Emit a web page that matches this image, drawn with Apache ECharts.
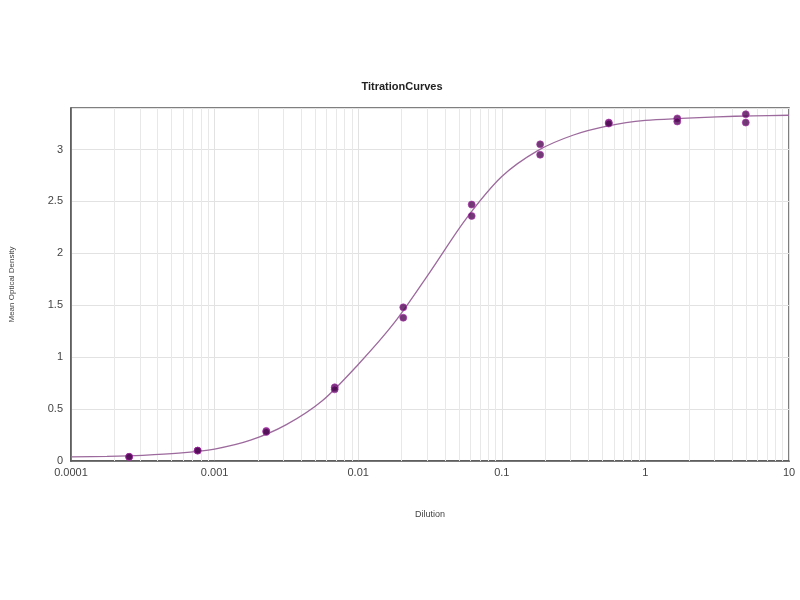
<!DOCTYPE html>
<html>
<head>
<meta charset="utf-8">
<script src="https://cdn.jsdelivr.net/npm/echarts@6/dist/echarts.min.js"></script>
<style>html,body{margin:0;padding:0;background:#fff}#c{width:800px;height:600px}</style>
</head>
<body>
<div id="c"></div>
<script>
// Dilution values of the measured points
var dilutions = [0.000254, 0.000762, 0.00229, 0.00686, 0.0206, 0.0617, 0.185, 0.556, 1.667, 5];
// Replicate optical densities
var replicate1 = [0.04, 0.10, 0.29, 0.71, 1.48, 2.47, 3.05, 3.26, 3.30, 3.34];
var replicate2 = [0.04, 0.10, 0.28, 0.69, 1.38, 2.36, 2.95, 3.25, 3.27, 3.26];
// Fitted curve (quarter-decade steps)
var curveX = [0.0001, 0.000178, 0.000316, 0.000562, 0.001, 0.00178, 0.00316, 0.00562, 0.01, 0.0178, 0.0316, 0.0562, 0.1, 0.178, 0.316, 0.562, 1, 1.78, 3.16, 5.62, 10];
var curveY = [0.04, 0.045, 0.055, 0.075, 0.115, 0.20, 0.35, 0.58, 0.93, 1.33, 1.82, 2.33, 2.74, 2.99, 3.14, 3.23, 3.28, 3.30, 3.315, 3.325, 3.33];
// Axis ticks
var yTicks = [0, 0.5, 1, 1.5, 2, 2.5, 3];
var xDecades = [0.0001, 0.001, 0.01, 0.1, 1, 10];

var points = [];
for (var i = 0; i < dilutions.length; i++) {
  points.push([dilutions[i], replicate1[i]]);
  points.push([dilutions[i], replicate2[i]]);
}
var curve = curveX.map(function (x, i) { return [x, curveY[i]]; });

// minor log grid lines 2..9 within each decade
var minorLines = [];
for (var d = 0; d < xDecades.length - 1; d++) {
  for (var m = 2; m <= 9; m++) {
    minorLines.push([parseFloat((xDecades[d] * m).toPrecision(6)), 0]);
  }
}
var yMax = 3.4;

var chart = echarts.init(document.getElementById('c'), null, { renderer: 'canvas' });
chart.setOption({
  backgroundColor: '#ffffff',
  animation: false,
  title: {
    text: 'TitrationCurves',
    left: 397, top: 76, textAlign: 'center',
    textStyle: { fontFamily: 'Liberation Sans', fontSize: 11, fontWeight: 'bold', color: '#222' }
  },
  grid: { left: 69, right: 11, top: 108, bottom: 139, show: true, borderColor: '#555', borderWidth: 1.5 },
  xAxis: {
    type: 'log', logBase: 10, min: 0.0001, max: 10,
    name: 'Dilution', nameLocation: 'middle', nameGap: 49,
    nameTextStyle: { fontFamily: 'Liberation Sans', fontSize: 9, color: '#444' },
    axisLine: { show: true, lineStyle: { color: '#555', width: 1.5 } },
    axisTick: { show: false },
    axisLabel: {
      fontFamily: 'Liberation Sans', fontSize: 11, color: '#444', margin: 6,
      formatter: function (v) { return parseFloat(v.toPrecision(6)).toString(); }
    },
    splitLine: { show: true, lineStyle: { color: '#e2e2e2', width: 1 } }
  },
  yAxis: {
    type: 'value', min: 0, max: yMax, interval: 0.5,
    name: 'Mean Optical Density', nameLocation: 'middle', nameGap: 55, nameRotate: 90,
    nameTextStyle: { fontFamily: 'Liberation Sans', fontSize: 8, color: '#444' },
    axisLine: { show: true, lineStyle: { color: '#555', width: 1.5 } },
    axisTick: { show: false },
    axisLabel: { fontFamily: 'Liberation Sans', fontSize: 11, color: '#444', margin: 8, showMaxLabel: false },
    splitLine: { show: true, lineStyle: { color: '#e2e2e2', width: 1 } }
  },
  series: [
    {
      type: 'custom', data: minorLines, silent: true, z: 1,
      encode: { x: 0, y: 1 },
      renderItem: function (params, api) {
        var p1 = api.coord([api.value(0), 0]);
        var p2 = api.coord([api.value(0), yMax]);
        var x = Math.round(p1[0]) + 0.5;
        return { type: 'line', shape: { x1: x, y1: p1[1], x2: x, y2: p2[1] },
                 style: { stroke: '#e8e8e8', lineWidth: 1 } };
      }
    },
    {
      type: 'line', data: curve, smooth: 0.3, showSymbol: false, symbol: 'none',
      lineStyle: { color: '#9c6a9c', width: 1.3 },
      z: 3
    },
    {
      type: 'scatter', data: points, symbol: 'circle', symbolSize: 7,
      itemStyle: { color: '#4d0a52', borderColor: '#b030b0', borderWidth: 0.8 },
      z: 4
    }
  ]
});
</script>
</body>
</html>
